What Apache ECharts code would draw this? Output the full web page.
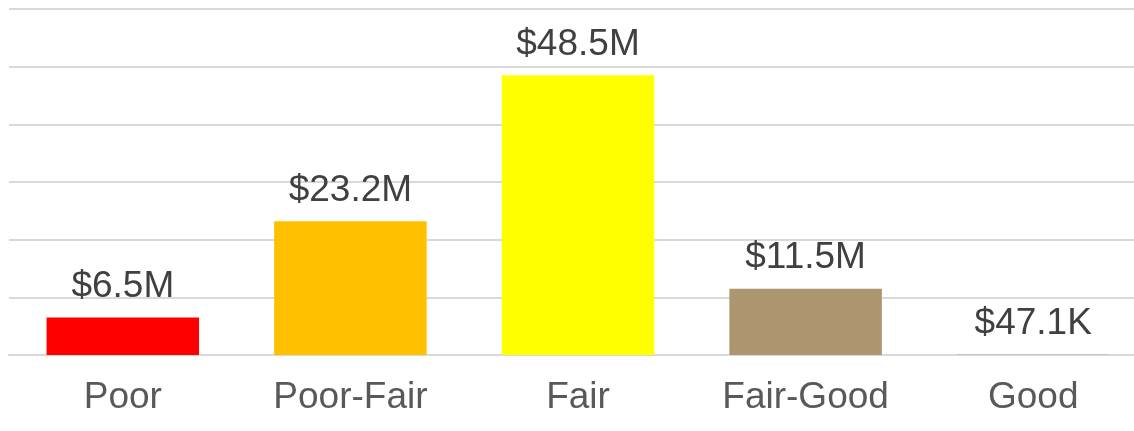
<!DOCTYPE html>
<html>
<head>
<meta charset="utf-8">
<script src="https://cdn.jsdelivr.net/npm/echarts@6/dist/echarts.min.js"></script>
<style>
  html, body { margin: 0; padding: 0; background: #fff; overflow: hidden; }
  #chart { width: 1147px; height: 431px; }
</style>
</head>
<body>
<div id="chart"></div>
<script>
// 类别和数值
const categories = ['Poor', 'Poor-Fair', 'Fair', 'Fair-Good', 'Good'];
const values = [6500000, 23200000, 48500000, 11500000, 47100];
const barColors = ['#ff0000', '#ffc000', '#ffff00', '#ad9570', '#70ad47'];

function money(v) {
  if (v >= 1e6) return '$' + (v / 1e6).toFixed(1) + 'M';
  if (v >= 1e3) return '$' + (v / 1e3).toFixed(1) + 'K';
  return '$' + v;
}

// 画布比窗口略宽，右侧网格线延伸出画面
const myChart = echarts.init(document.getElementById('chart'));
const option = {
  animation: false,
  grid: { left: 9, right: 0, top: 9, bottom: 76 },
  xAxis: {
    type: 'category',
    data: categories,
    axisTick: { show: false },
    axisLine: { lineStyle: { color: '#d9d9d9', width: 2 } },
    axisLabel: {
      color: '#595959',
      fontSize: 37,
      fontFamily: 'Liberation Sans',
      margin: 24
    }
  },
  yAxis: {
    type: 'value',
    min: 0,
    max: 60000000,
    interval: 10000000,
    axisLabel: { show: false },
    axisLine: { show: false },
    axisTick: { show: false },
    splitLine: { lineStyle: { color: '#d9d9d9', width: 2 } }
  },
  series: [{
    type: 'bar',
    data: values.map((v, i) => ({ value: v, itemStyle: { color: barColors[i] } })),
    barWidth: '67%',
    label: {
      show: true,
      position: 'top',
      distance: 12,
      color: '#404040',
      fontSize: 37,
      fontFamily: 'Liberation Sans',
      formatter: p => money(p.value)
    }
  }]
};
myChart.setOption(option);
</script>
</body>
</html>
